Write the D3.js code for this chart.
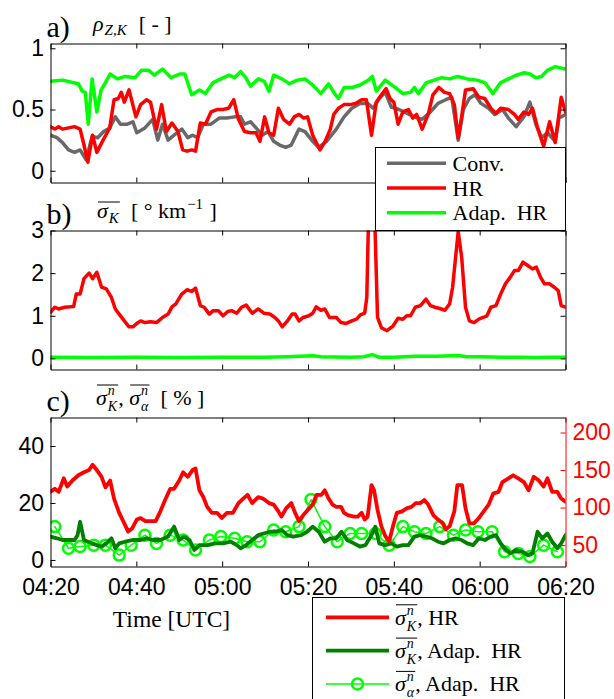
<!DOCTYPE html>
<html><head><meta charset="utf-8">
<script src="https://cdn.jsdelivr.net/npm/d3@7"></script>
<style>body{margin:0;background:#fff}svg{display:block}</style>
</head><body>
<svg id="chart" width="614" height="699"></svg>
<script>
// ---------- DATA (minutes after 04:20 UTC, value) ----------
const timeTicks = ["04:20","04:40","05:00","05:20","05:40","06:00","06:20"];
const aTicks = [0, 0.5, 1];
const bTicks = [0, 1, 2, 3];
const cLeftTicks = [0, 20, 40];
const cRightTicks = [50, 100, 150, 200];

// a) rho_{Z,K}
const aConv = [[0,0.29],[1.5,0.27],[2.8,0.23],[4.2,0.17],[5.6,0.15],[6.9,0.17],[8.3,0.09],[9.7,0.28],[11.0,0.27],[12.4,0.32],[13.8,0.35],[15.1,0.44],[16.3,0.38],[17.9,0.38],[19.2,0.40],[20.1,0.31],[22.0,0.35],[23.8,0.42],[25.0,0.25],[26.1,0.38],[27.4,0.25],[28.8,0.29],[30.6,0.34],[32.0,0.27],[33.1,0.29],[34.3,0.27],[35.6,0.38],[37.4,0.38],[39.3,0.43],[41.1,0.43],[42.9,0.44],[44.3,0.44],[45.2,0.38],[46.6,0.40],[47.9,0.35],[49.3,0.29],[50.7,0.32],[52.0,0.24],[53.4,0.21],[54.8,0.19],[56.1,0.21],[57.9,0.34],[59.3,0.32],[61.1,0.24],[62.5,0.19],[64.3,0.24],[66.6,0.34],[68.4,0.44],[70.2,0.51],[72.1,0.55],[73.9,0.55],[75.2,0.51],[76.6,0.59],[78.0,0.64],[79.4,0.52],[81.2,0.50],[83.0,0.47],[84.8,0.44],[86.6,0.42],[88.5,0.48],[90.3,0.55],[92.1,0.58],[93.5,0.60],[95.0,0.25],[96.2,0.50],[97.6,0.59],[98.9,0.62],[100.3,0.55],[102.1,0.51],[103.5,0.46],[105.3,0.50],[106.7,0.43],[108.5,0.36],[110.3,0.44],[111.7,0.56],[113.1,0.38],[114.4,0.27],[115.8,0.31],[117.6,0.24],[118.5,0.43],[120,0.46]];
const aHR = [[0,0.36],[1.0,0.34],[1.9,0.36],[2.8,0.34],[4.2,0.35],[5.6,0.36],[6.9,0.34],[7.8,0.21],[8.7,0.07],[9.8,0.29],[10.8,0.15],[12.1,0.24],[13.8,0.35],[14.8,0.58],[15.8,0.59],[16.5,0.64],[17.2,0.56],[18.3,0.66],[19.9,0.44],[21.0,0.54],[22.4,0.58],[23.3,0.56],[24.7,0.34],[25.9,0.54],[27.0,0.32],[28.3,0.39],[29.7,0.32],[30.8,0.17],[31.8,0.16],[32.9,0.17],[33.8,0.16],[34.9,0.39],[36.1,0.38],[37.4,0.48],[38.8,0.50],[40.2,0.50],[41.5,0.51],[42.7,0.58],[43.8,0.42],[45.2,0.32],[46.6,0.31],[47.9,0.31],[48.8,0.24],[49.9,0.44],[50.9,0.31],[52.0,0.29],[53.1,0.51],[54.3,0.42],[55.7,0.38],[56.8,0.44],[57.9,0.46],[59.0,0.43],[59.9,0.44],[61.1,0.29],[62.8,0.17],[64.0,0.24],[65.2,0.34],[66.0,0.46],[67.1,0.51],[68.4,0.54],[69.8,0.54],[71.1,0.55],[72.5,0.58],[73.6,0.58],[74.8,0.29],[75.9,0.56],[77.1,0.62],[78.2,0.67],[79.1,0.59],[80.0,0.56],[81.0,0.38],[82.1,0.48],[83.4,0.50],[84.4,0.43],[85.3,0.46],[86.6,0.34],[88.0,0.46],[89.1,0.62],[90.5,0.68],[91.8,0.64],[93.0,0.63],[94.1,0.54],[95.0,0.27],[95.8,0.44],[96.7,0.66],[98.5,0.67],[99.8,0.60],[101.2,0.59],[102.6,0.51],[103.8,0.47],[104.9,0.51],[106.7,0.50],[108.1,0.46],[109.0,0.42],[110.3,0.48],[111.4,0.46],[112.3,0.51],[113.5,0.35],[114.9,0.20],[116.3,0.40],[117.6,0.23],[119.0,0.60],[120,0.48]];
const aAdap = [[0,0.73],[2.8,0.74],[5.1,0.72],[6.5,0.71],[7.4,0.65],[8.1,0.64],[8.8,0.38],[9.7,0.75],[10.8,0.48],[11.8,0.66],[12.8,0.72],[13.9,0.79],[15.6,0.75],[17.4,0.77],[19.7,0.76],[21.2,0.82],[22.9,0.82],[24.2,0.78],[26.1,0.83],[28.1,0.76],[30.2,0.79],[31.3,0.79],[32.9,0.62],[34.7,0.66],[36.1,0.63],[37.9,0.72],[39.7,0.75],[41.6,0.78],[42.9,0.76],[44.3,0.81],[45.5,0.76],[46.6,0.69],[48.4,0.75],[49.8,0.73],[50.9,0.65],[52.0,0.78],[53.9,0.75],[55.7,0.71],[57.5,0.74],[59.3,0.75],[61.1,0.70],[63.0,0.63],[64.8,0.71],[66.2,0.63],[67.1,0.59],[68.4,0.68],[70.3,0.68],[72.1,0.70],[74.1,0.74],[75.0,0.77],[75.9,0.65],[78.0,0.74],[80.3,0.68],[82.1,0.63],[83.9,0.64],[84.8,0.68],[85.7,0.63],[87.6,0.72],[89.4,0.74],[91.2,0.76],[93.0,0.75],[94.9,0.77],[97.1,0.75],[99.4,0.74],[101.2,0.72],[103.1,0.63],[104.9,0.72],[106.7,0.75],[108.5,0.78],[110.4,0.80],[111.7,0.79],[113.1,0.76],[114.4,0.77],[115.8,0.82],[117.6,0.85],[120,0.83]];

// b) mean sigma_K [deg/km]
const bHR = [[0,1.08],[1.0,1.2],[1.9,1.16],[3.3,1.2],[4.6,1.21],[5.4,1.22],[6.0,1.51],[6.9,1.51],[7.8,1.87],[9.0,2.0],[9.8,1.87],[10.8,2.02],[11.9,1.67],[13.0,1.63],[14.2,1.43],[15.1,1.16],[16.0,1.04],[17.2,0.88],[18.3,0.74],[19.2,0.74],[20.1,0.82],[21.0,0.88],[22.0,0.84],[23.3,0.86],[24.7,0.84],[26.1,0.96],[27.4,1.04],[28.3,1.21],[29.2,1.28],[30.6,1.51],[31.8,1.61],[32.9,1.57],[33.8,1.65],[34.9,1.24],[35.8,1.2],[37.0,1.04],[37.9,1.12],[39.1,1.12],[40.2,1.0],[41.3,1.10],[42.2,1.12],[43.4,1.06],[44.5,1.2],[45.6,1.25],[47.0,1.06],[48.4,1.16],[49.7,1.06],[51.1,1.04],[52.3,0.96],[53.1,0.88],[54.0,0.74],[55.2,0.88],[56.3,1.04],[57.0,1.04],[57.9,0.88],[58.9,0.96],[60.2,1.0],[61.1,1.06],[61.9,1.21],[63.0,1.13],[63.9,1.16],[65.0,0.96],[66.6,0.96],[67.7,0.84],[68.9,0.82],[70.2,0.88],[71.3,0.92],[72.2,1.02],[73.2,1.06],[73.7,1.43],[74.3,4.2],[75.3,4.2],[76.2,0.96],[77.1,0.72],[78.4,0.65],[79.8,0.76],[81.0,0.94],[82.1,0.92],[83.0,1.0],[83.9,1.0],[85.0,1.2],[86.2,1.24],[87.5,1.39],[88.5,1.24],[89.6,1.2],[90.7,1.17],[91.9,1.13],[93.0,1.28],[93.7,1.67],[94.4,2.38],[95.0,2.97],[95.8,2.38],[96.7,1.2],[97.6,0.88],[98.7,0.84],[99.8,0.92],[100.8,0.96],[101.7,1.0],[102.6,1.2],[103.8,1.24],[104.9,1.51],[106.0,1.75],[107.1,1.9],[108.1,2.06],[109.0,2.06],[110.1,2.26],[111.2,2.18],[112.3,2.1],[113.2,2.14],[114.2,1.9],[115.1,1.75],[116.3,1.75],[117.4,1.67],[118.3,1.59],[119.0,1.24],[120,1.2]];
const bAdap = [[0,0.03],[10,0.02],[20,0.03],[30,0.02],[40,0.03],[50,0.03],[55,0.04],[61,0.06],[63,0.04],[70,0.03],[73,0.04],[75,0.09],[76.5,0.03],[80,0.03],[85,0.05],[90,0.05],[95,0.07],[97,0.04],[100,0.04],[105,0.03],[110,0.03],[113,0.02],[117,0.03],[120,0.03]];

// c) normalised sigmas [%]
const cHR = [[0,121],[1.0,125],[1.9,121],[3.1,139],[3.9,128],[5.1,136],[6.5,143],[7.8,147],[9.0,150],[9.8,157],[10.8,150],[11.9,141],[12.8,127],[13.9,136],[14.8,112],[16.0,93],[17.2,79],[18.1,68],[19.0,72],[20.1,84],[21.0,86],[22.1,82],[23.3,82],[24.5,82],[25.6,95],[26.7,110],[27.9,125],[28.8,125],[30.0,136],[30.9,147],[32.0,141],[33.1,150],[33.8,152],[34.7,123],[35.6,114],[36.5,101],[37.6,93],[38.8,93],[39.9,86],[41.1,93],[42.5,93],[43.8,106],[44.9,112],[45.9,117],[47.0,106],[48.4,114],[49.5,112],[50.9,106],[52.0,104],[53.1,95],[53.8,88],[54.9,99],[56.1,106],[57.0,93],[57.9,82],[58.9,90],[60.0,97],[61.1,104],[62.0,117],[63.1,117],[63.9,123],[64.8,112],[65.7,104],[66.6,101],[67.7,101],[68.4,93],[69.3,90],[70.7,88],[71.6,88],[72.5,93],[73.2,84],[73.9,88],[74.8,130],[75.4,123],[76.2,97],[77.1,75],[78.0,62],[78.9,55],[79.8,75],[80.7,93],[81.9,95],[83.0,99],[84.1,101],[85.1,106],[86.2,106],[87.1,110],[88.0,104],[89.2,90],[90.3,84],[91.4,79],[92.1,71],[93.0,75],[94.1,95],[94.8,130],[95.9,130],[96.7,99],[97.6,79],[98.7,79],[99.8,86],[101.2,97],[102.1,104],[103.2,119],[104.4,121],[105.3,134],[106.7,139],[107.8,143],[109.0,139],[110.3,134],[111.4,123],[112.6,141],[113.8,136],[114.9,128],[115.8,139],[116.9,121],[118.1,121],[119.0,112],[120,108]];
const cAdapK = [[0,8.2],[1.5,7.6],[2.8,7.0],[4.2,7.0],[5.6,7.0],[6.3,8.7],[6.9,13.4],[7.8,7.0],[8.7,6.4],[9.8,5.8],[10.8,5.2],[11.9,4.7],[13.0,5.8],[14.2,7.6],[15.1,4.1],[16.0,5.8],[17.4,6.4],[19.2,7.0],[21.0,7.0],[22.4,7.6],[23.8,7.0],[25.6,7.0],[27.4,8.2],[28.8,11.7],[30.0,7.0],[31.1,8.2],[32.4,7.0],[33.5,3.5],[34.7,5.2],[36.5,5.2],[38.4,5.8],[40.2,5.8],[42.0,6.4],[43.4,5.2],[44.3,4.1],[45.6,5.2],[47.0,7.0],[48.4,8.7],[49.7,9.3],[51.1,9.9],[52.5,9.9],[53.8,10.5],[55.2,8.7],[56.6,8.2],[58.4,8.7],[59.8,9.9],[61.1,11.7],[62.5,9.9],[63.9,6.4],[65.2,7.6],[66.6,7.6],[67.8,9.9],[69.1,7.0],[70.7,5.8],[72.1,4.7],[73.4,5.2],[74.6,8.2],[75.7,11.7],[76.6,5.8],[78.0,5.2],[79.4,5.8],[80.7,4.7],[82.1,5.2],[83.4,5.2],[84.8,8.2],[86.2,8.7],[87.5,8.2],[88.9,7.6],[90.3,6.4],[91.6,5.8],[93.0,7.0],[94.4,7.6],[95.8,7.0],[97.1,5.8],[98.5,5.2],[99.8,7.6],[101.2,7.0],[102.6,8.2],[103.8,8.7],[104.9,5.8],[105.8,4.1],[107.1,2.3],[108.5,3.5],[109.9,2.9],[111.2,1.7],[112.3,2.3],[113.5,9.9],[114.6,7.6],[115.8,9.3],[116.9,6.4],[118.1,4.1],[119.0,5.8],[120,8.7]];
const cAdapAlpha = [[1.0,11.7],[4.2,4.1],[6.9,4.7],[10.1,5.2],[12.8,5.2],[16.0,1.7],[18.8,5.2],[22.0,8.7],[24.7,5.8],[27.9,8.7],[30.9,7.0],[33.8,3.5],[37.0,7.0],[39.7,8.2],[42.9,7.6],[45.8,6.4],[48.8,6.4],[52.0,10.5],[54.8,9.9],[57.9,11.7],[60.7,21.2],[63.9,11.7],[66.8,6.4],[69.8,9.3],[72.5,9.3],[75.7,9.3],[78.9,5.2],[82.1,11.7],[84.8,9.9],[87.5,9.3],[90.7,11.7],[93.9,8.7],[96.7,10.5],[99.6,9.9],[102.9,9.9],[105.8,2.9],[109.0,2.3],[111.7,1.2],[114.9,5.2],[118.1,2.9]];

// ---------- DRAWING ----------
const SANS = "'Liberation Sans', Arial, Helvetica, sans-serif";
const SERIF = "'Liberation Serif', 'Times New Roman', serif";
const RED = "#ff0000", GREEN = "#00ff00", GRAY = "#696969", DKGREEN = "#007f00";
const svg = d3.select("#chart");
const L = 50.5, R = 565.5;
const t0 = Date.UTC(2000, 0, 1, 4, 20);
const toDate = m => new Date(t0 + m * 60000);
const parseHM = s => { const [h, mm] = s.split(":").map(Number); return new Date(Date.UTC(2000, 0, 1, h, mm)); };
const x = d3.scaleUtc().domain([toDate(0), toDate(120)]).range([L, R]);
const tickDates = timeTicks.map(parseHM);

const P = { a: { top: 43.5, bottom: 182.5 }, b: { top: 230.5, bottom: 369.5 }, c: { top: 417.5, bottom: 566.5 } };
const yA = d3.scaleLinear().domain([-0.096, 1.039]).range([P.a.bottom, P.a.top]);
const yB = d3.scaleLinear().domain([-0.26, 3.0]).range([P.b.bottom, P.b.top]);
const yC = d3.scaleLinear().domain([-2.3, 50]).range([P.c.bottom, P.c.top]);
const yC2 = d3.scaleLinear().domain([21.5, 220]).range([P.c.bottom, P.c.top]);

const defs = svg.append("defs");
Object.entries(P).forEach(([k, p]) => {
  defs.append("clipPath").attr("id", "clip-" + k).append("rect")
    .attr("x", L).attr("y", p.top).attr("width", R - L).attr("height", p.bottom - p.top);
});

function styleAxis(g, color) {
  g.attr("font-size", 23).attr("font-family", SANS);
  g.selectAll("path.domain").attr("stroke", color).attr("stroke-width", 1);
  g.selectAll(".tick line").attr("stroke", color).attr("stroke-width", 1);
  g.selectAll(".tick text").attr("fill", color);
}

function drawAxes(p, y, yTicks, fmt, showX, rightAxis) {
  const g = svg.append("g");
  const gb = g.append("g").attr("transform", `translate(0,${p.bottom})`)
    .call(d3.axisBottom(x).tickValues(tickDates).tickSizeInner(-5).tickSizeOuter(0).tickPadding(12.5)
      .tickFormat(showX ? d3.utcFormat("%H:%M") : () => ""));
  styleAxis(gb, "#000");
  const gt = g.append("g").attr("transform", `translate(0,${p.top})`)
    .call(d3.axisTop(x).tickValues(tickDates).tickSizeInner(-5).tickSizeOuter(0).tickFormat(() => ""));
  styleAxis(gt, "#000");
  const gl = g.append("g").attr("transform", `translate(${L},0)`)
    .call(d3.axisLeft(y).tickValues(yTicks).tickSizeInner(-5).tickSizeOuter(0).tickPadding(6.5).tickFormat(fmt));
  styleAxis(gl, "#000");
  if (rightAxis) {
    const gr = g.append("g").attr("transform", `translate(${R},0)`)
      .call(d3.axisRight(rightAxis.scale).tickValues(rightAxis.ticks).tickSizeInner(-5).tickSizeOuter(0).tickPadding(7).tickFormat(d3.format("d")));
    styleAxis(gr, RED);
  } else {
    const gr = g.append("g").attr("transform", `translate(${R},0)`)
      .call(d3.axisRight(y).tickValues(yTicks).tickSizeInner(-5).tickSizeOuter(0).tickFormat(() => ""));
    styleAxis(gr, "#000");
  }
}

function drawLine(panel, y, data, color, width) {
  const line = d3.line().x(d => x(toDate(d[0]))).y(d => y(d[1]));
  svg.append("g").attr("clip-path", `url(#clip-${panel})`)
    .append("path").datum(data).attr("d", line)
    .attr("fill", "none").attr("stroke", color).attr("stroke-width", width)
    .attr("stroke-linejoin", "round").attr("stroke-linecap", "round");
}

// math text helper (overline, stacked super/subscripts)
function mathText(g, x0, y0, items, size) {
  let cx = x0;
  const put = (t, px, py, sz, it) => {
    const e = g.append("text").attr("x", px).attr("y", py).attr("font-family", SERIF)
      .attr("font-size", sz).attr("font-style", it ? "italic" : "normal")
      .style("white-space", "pre").text(t);
    return e.node().getComputedTextLength();
  };
  function run(list) {
    list.forEach(d => {
      if (d.over) {
        const sx = cx; run(d.over);
        g.append("line").attr("x1", sx + 1).attr("x2", cx).attr("y1", y0 - d.oy).attr("y2", y0 - d.oy)
          .attr("stroke", "#000").attr("stroke-width", 1);
      } else if (d.sup !== undefined || d.sub !== undefined) {
        let w = 0;
        if (d.sup) w = Math.max(w, put(d.sup, cx + 1, y0 - (d.supDy || 10), d.ss || 14, d.supIt));
        if (d.sub) w = Math.max(w, put(d.sub, cx + 1, y0 + (d.subDy || 6), d.ss || 14, d.subIt));
        cx += w + 2;
      } else {
        cx += put(d.t, cx, y0 + (d.dy || 0), d.size || size, d.it);
      }
    });
  }
  run(items);
  return cx;
}

// ----- panel a -----
drawLine("a", yA, aConv, GRAY, 3.5);
drawLine("a", yA, aHR, RED, 3.5);
drawLine("a", yA, aAdap, GREEN, 3.5);
drawAxes(P.a, yA, aTicks, d => d === 0 ? "0" : (d === 1 ? "1" : "0.5"), false);

// ----- panel b -----
drawLine("b", yB, bAdap, GREEN, 3.5);
drawLine("b", yB, bHR, RED, 3.5);
drawAxes(P.b, yB, bTicks, d3.format("d"), false);

// ----- panel c -----
const cg = svg.append("g").attr("clip-path", "url(#clip-c)");
drawLine("c", yC, cAdapAlpha, GREEN, 1.5);
cg.selectAll("circle").data(cAdapAlpha).join("circle")
  .attr("cx", d => x(toDate(d[0]))).attr("cy", d => yC(d[1])).attr("r", 5.5)
  .attr("fill", "none").attr("stroke", GREEN).attr("stroke-width", 2.5);
drawLine("c", yC, cAdapK, DKGREEN, 3.8);
drawLine("c", yC2, cHR, RED, 3.8);
drawAxes(P.c, yC, cLeftTicks, d3.format("d"), true, { scale: yC2, ticks: cRightTicks });

// ----- panel titles -----
const tg = svg.append("g");
[["a)", P.a.top], ["b)", P.b.top], ["c)", P.c.top]].forEach(([t, top]) => {
  tg.append("text").attr("x", 46.5).attr("y", top - 6.8).attr("font-family", SERIF)
    .attr("font-size", 30).text(t);
});
mathText(tg, 93, P.a.top - 12.5, [
  { t: "ρ", it: true },
  { sub: "Z,K", subDy: 4, ss: 15, subIt: true },
  { t: "  [ - ]" }
], 22);
mathText(tg, 97, P.b.top - 12.5, [
  { over: [{ t: "σ", it: true }, { sub: "K", subDy: 5, ss: 15, subIt: true }], oy: 16 },
  { t: "  [ ° km" },
  { sup: "−1", supDy: 9, ss: 15 },
  { t: " ]" }
], 22);
mathText(tg, 96, P.c.top - 12.5, [
  { over: [{ t: "σ", it: true }, { sup: "n", sub: "K", supIt: true, subIt: true }], oy: 20 },
  { t: ", " },
  { over: [{ t: "σ", it: true }, { sup: "n", sub: "α", supIt: true, subIt: true }], oy: 20 },
  { t: "  [ % ]" }
], 22);

svg.append("text").attr("x", 171.5).attr("y", 627).attr("text-anchor", "middle")
  .attr("font-family", SERIF).attr("font-size", 23.5).text("Time [UTC]");

// ----- legend a -----
const legA = [["Conv.", GRAY], ["HR", RED], ["Adap.  HR", GREEN]];
const la = svg.append("g");
la.append("rect").attr("x", 375.5).attr("y", 147.5).attr("width", 190).attr("height", 83)
  .attr("fill", "#fff").attr("stroke", "#000").attr("stroke-width", 1);
legA.forEach(([t, c], i) => {
  const yy = 163.3 + i * 24.7;
  la.append("line").attr("x1", 387).attr("x2", 446).attr("y1", yy).attr("y2", yy)
    .attr("stroke", c).attr("stroke-width", 3.5);
  la.append("text").attr("x", 452.5).attr("y", yy + 7.5).attr("font-family", SERIF)
    .attr("font-size", 22).style("white-space", "pre").text(t);
});

// ----- legend c -----
const lc = svg.append("g");
lc.append("rect").attr("x", 312.5).attr("y", 597.5).attr("width", 252).attr("height", 120)
  .attr("fill", "#fff").attr("stroke", "#000").attr("stroke-width", 1);
const legC = [
  { sub: "K", rest: ", HR", color: RED, w: 3.8 },
  { sub: "K", rest: ", Adap.  HR", color: DKGREEN, w: 3.8 },
  { sub: "α", rest: ", Adap.  HR", color: GREEN, w: 1.5, marker: true }
];
legC.forEach((d, i) => {
  const yy = 617.3 + i * 33.3;
  lc.append("line").attr("x1", 326).attr("x2", 389).attr("y1", yy).attr("y2", yy)
    .attr("stroke", d.color).attr("stroke-width", d.w);
  if (d.marker) lc.append("circle").attr("cx", 357.5).attr("cy", yy).attr("r", 5.5)
    .attr("fill", "none").attr("stroke", d.color).attr("stroke-width", 2.5);
  mathText(lc, 395, yy + 7.5, [
    { over: [{ t: "σ", it: true }, { sup: "n", sub: d.sub, supIt: true, subIt: true }], oy: 20 },
    { t: d.rest }
  ], 22);
});
</script>
</body></html>
